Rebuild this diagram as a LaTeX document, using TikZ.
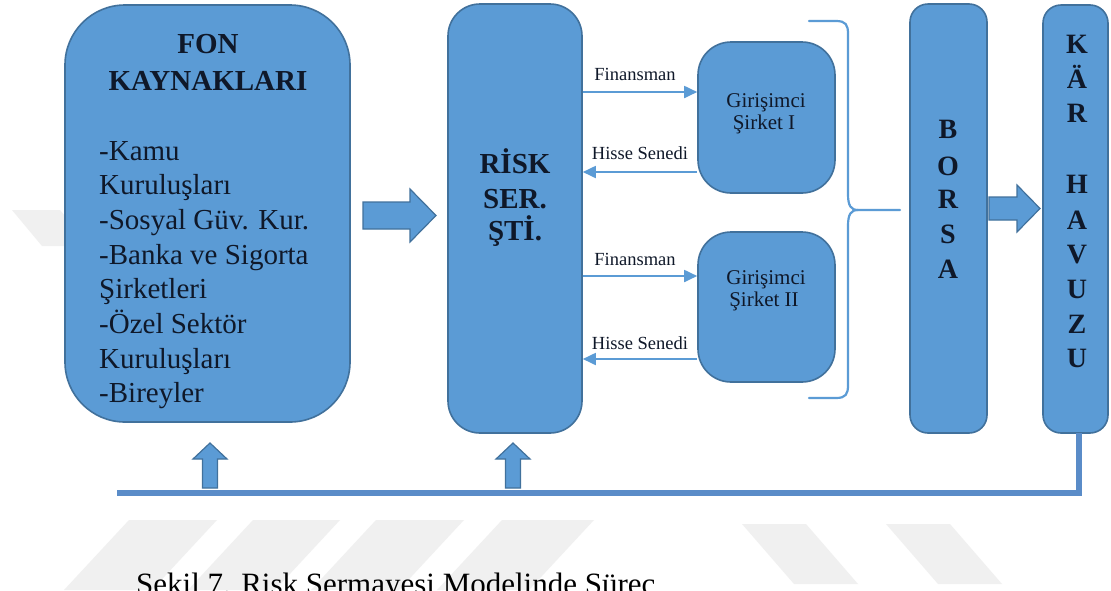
\documentclass[tikz,border=0pt]{standalone}
\usepackage{fontspec}
\setmainfont{Liberation Serif}
\usetikzlibrary{arrows.meta}
\definecolor{boxfill}{HTML}{5B9BD5}
\definecolor{boxdraw}{HTML}{41719C}
\definecolor{wm}{HTML}{F0F0F0}
\definecolor{txt}{HTML}{0F1829}
\definecolor{linec}{HTML}{5A8CC8}
\begin{document}
\begin{tikzpicture}[x=1pt,y=-1pt,
  box/.style={draw=boxdraw, fill=boxfill, line width=1.6pt, inner sep=0pt},
  blockarrow/.style={draw=boxdraw, fill=boxfill, line width=1.2pt, line join=miter},
  wmark/.style={fill=wm, draw=none},
  bigtxt/.style={font=\fontsize{29}{35}\selectfont, text=txt, inner sep=0pt},
  boldtxt/.style={font=\fontsize{29}{35}\selectfont\bfseries, text=txt, inner sep=0pt},
  lettertxt/.style={font=\fontsize{28}{34}\selectfont\bfseries, text=txt, inner sep=0pt, anchor=base},
  smalltxt/.style={font=\fontsize{21}{24}\selectfont, text=txt, inner sep=0pt, anchor=base},
  labeltxt/.style={font=\fontsize{18.5}{20}\selectfont, text=txt, inner sep=0pt, anchor=base},
  thinarrow/.style={draw=boxfill, line width=1.8pt, -{Triangle[length=13pt,width=12pt]}},
  bracestyle/.style={draw=boxfill, line width=2.2pt, line cap=round}
]
\useasboundingbox (0,0) rectangle (1111,590);
\fill[white] (0,0) rectangle (1111,590);

% watermark stripes
\fill[wmark] (129,520) -- (217,520) -- (152,590) -- (64,590) -- cycle;
\fill[wmark] (253,520) -- (340,520) -- (275,590) -- (188,590) -- cycle;
\fill[wmark] (376,520) -- (464,520) -- (399,590) -- (311,590) -- cycle;
\fill[wmark] (502,520) -- (594,520) -- (529,590) -- (437,590) -- cycle;
\fill[wmark] (742,524) -- (806,524) -- (858,584) -- (794,584) -- cycle;
\fill[wmark] (886,524) -- (950,524) -- (1002,584) -- (938,584) -- cycle;
\fill[wmark] (12,210) -- (60,210) -- (65,216) -- (65,246) -- (42,246) -- cycle;

% main boxes
\node[box, rounded corners=60pt, minimum width=285pt, minimum height=417pt] (fon) at (207.5,213.5) {};
\node[box, rounded corners=32pt, minimum width=134pt, minimum height=429pt] (risk) at (515,218.5) {};
\node[box, rounded corners=33pt, minimum width=137pt, minimum height=151pt] (g1) at (766.5,117.5) {};
\node[box, rounded corners=33pt, minimum width=137pt, minimum height=150pt] (g2) at (766.5,307) {};
\node[box, rounded corners=18pt, minimum width=77pt, minimum height=429pt] (borsa) at (948.5,218.5) {};
\node[box, rounded corners=18pt, minimum width=65pt, minimum height=428pt] (kar) at (1075.5,219) {};

% FON KAYNAKLARI text
\node[boldtxt, anchor=base] (fon1) at (208,53) {FON};
\node[boldtxt, anchor=base] (fon2) at (208,90.5) {KAYNAKLARI};
\node[bigtxt, anchor=base west] (fl1) at (99,160) {-Kamu};
\node[bigtxt, anchor=base west] (fl2) at (99,194.7) {Kuruluşları};
\node[bigtxt, anchor=base west] (fl3) at (99,229.4) {-Sosyal Güv. Kur.};
\node[bigtxt, anchor=base west] (fl4) at (99,264.1) {-Banka ve Sigorta};
\node[bigtxt, anchor=base west] (fl5) at (99,298.8) {Şirketleri};
\node[bigtxt, anchor=base west] (fl6) at (99,333.5) {-Özel Sektör};
\node[bigtxt, anchor=base west] (fl7) at (99,368.2) {Kuruluşları};
\node[bigtxt, anchor=base west] (fl8) at (99,402.9) {-Bireyler};

% RISK text
\node[boldtxt, anchor=base] (r1) at (515,173) {RİSK};
\node[boldtxt, anchor=base] (r2) at (515,208) {SER.};
\node[boldtxt, anchor=base] (r3) at (515,240) {ŞTİ.};

% Girisimci texts
\node[smalltxt] (g1a) at (766,107) {Girişimci};
\node[smalltxt] (g1b) at (764,129) {Şirket I};
\node[smalltxt] (g2a) at (766,284) {Girişimci};
\node[smalltxt] (g2b) at (764,306) {Şirket II};

% BORSA letters
\node[lettertxt] (b1) at (948,138) {B};
\node[lettertxt] (b2) at (948,175) {O};
\node[lettertxt] (b3) at (948,208) {R};
\node[lettertxt] (b4) at (948,243) {S};
\node[lettertxt] (b5) at (948,278) {A};
% KAR HAVUZU letters
\node[lettertxt] (k1) at (1077,53) {K};
\node[lettertxt] (k2) at (1077,88) {Ä};
\node[lettertxt] (k3) at (1077,122) {R};
\node[lettertxt] (k4) at (1077,193) {H};
\node[lettertxt] (k5) at (1077,229) {A};
\node[lettertxt] (k6) at (1077,263) {V};
\node[lettertxt] (k7) at (1077,298) {U};
\node[lettertxt] (k8) at (1077,333) {Z};
\node[lettertxt] (k9) at (1077,367) {U};

% thin arrows
\coordinate (f1s) at (risk.east |- 0,92);
\coordinate (f1e) at (g1.west |- 0,92);
\draw[thinarrow] (f1s) -- (f1e);
\coordinate (h1s) at (g1.west |- 0,172);
\coordinate (h1e) at (risk.east |- 0,172);
\draw[thinarrow] (h1s) -- (h1e);
\coordinate (f2s) at (risk.east |- 0,276);
\coordinate (f2e) at (g2.west |- 0,276);
\draw[thinarrow] (f2s) -- (f2e);
\coordinate (h2s) at (g2.west |- 0,359);
\coordinate (h2e) at (risk.east |- 0,359);
\draw[thinarrow] (h2s) -- (h2e);

\node[labeltxt] (lf1) at (635,80.5) {Finansman};
\node[labeltxt] (lh1) at (640,159) {Hisse Senedi};
\node[labeltxt] (lf2) at (635,265) {Finansman};
\node[labeltxt] (lh2) at (640,349) {Hisse Senedi};

% brace
\coordinate (bt) at (809,21);
\coordinate (bb) at (809,398);
\coordinate (btip) at (900,210);
\draw[bracestyle] (bt) -- (836,21) .. controls (846,21) and (848,25) .. (848,34)
  -- (848,194) .. controls (848,206) and (851,210) .. (858,210) -- (btip);
\draw[bracestyle] (bb) -- (836,398) .. controls (846,398) and (848,394) .. (848,385)
  -- (848,226) .. controls (848,214) and (851,210) .. (858,210);

% block arrows
\draw[blockarrow] (363,202) -- (410,202) -- (410,189) -- (436,215.5) -- (410,242) -- (410,229) -- (363,229) -- cycle;
\draw[blockarrow] (989,197) -- (1017,197) -- (1017,185) -- (1040,208.5) -- (1017,232) -- (1017,220) -- (989,220) -- cycle;
\draw[blockarrow] (202.5,488) -- (202.5,459) -- (193,459) -- (210,443) -- (227,459) -- (217.5,459) -- (217.5,488) -- cycle;
\draw[blockarrow] (505.5,488) -- (505.5,459) -- (496,459) -- (513,443) -- (530,459) -- (520.5,459) -- (520.5,488) -- cycle;

% return line
\coordinate (kbot) at (1079,433);
\coordinate (corner) at (1079,493);
\coordinate (lend) at (117,493);
\draw[linec, line width=5.5pt, line join=miter] (kbot) -- (corner) -- (lend);

% caption (cut by the lower edge, as in the reference)
\node[font=\fontsize{31}{36}\selectfont, text=black, inner sep=0pt, anchor=base west] (cap) at (136,594) {Şekil 7. Risk Sermayesi Modelinde Süreç};
\end{tikzpicture}
\end{document}
